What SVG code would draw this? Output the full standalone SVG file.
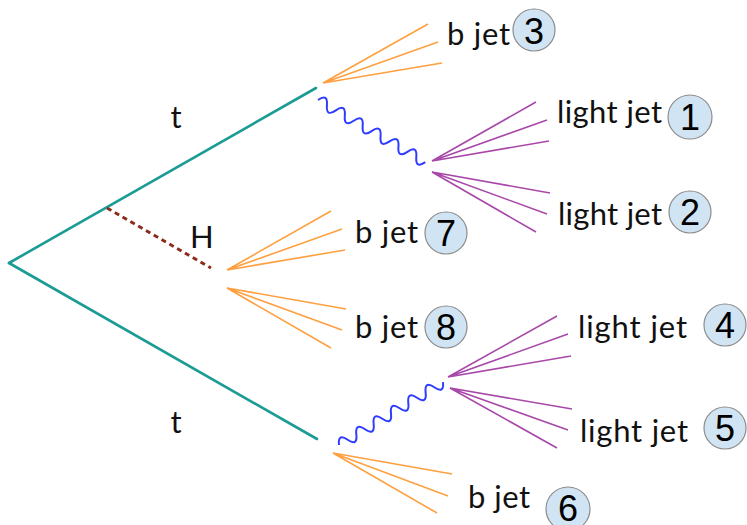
<svg xmlns="http://www.w3.org/2000/svg" width="747" height="525" viewBox="0 0 747 525">
<style>
.top{stroke:#1a9b94;stroke-width:2.6;fill:none;stroke-linecap:round}
.h{stroke:#8b2b1b;stroke-width:3;stroke-dasharray:5,4;fill:none}
.w{stroke:#2d3cff;stroke-width:2;fill:none}
.b{stroke:#ffa040;stroke-width:1.6;fill:none}
.l{stroke:#a848a8;stroke-width:1.6;fill:none}
.lab{font-family:Lato,"Open Sans","Liberation Sans",sans-serif;font-size:31px;fill:#111}
.c{fill:#d0e4f3;stroke:#8c8c8c;stroke-width:1.2}
.n{font-family:"Liberation Sans",Arial,sans-serif;font-size:36px;fill:#000;text-anchor:middle}
</style>
<g id="connectors">
<line class="top" x1="9" y1="263" x2="316" y2="88"/>
<line class="top" x1="9" y1="263" x2="317" y2="439"/>
<line class="h" x1="107" y1="208" x2="211" y2="268"/>
<path class="w" transform="translate(318,100) rotate(30.1)" d="M0,0 q5.17,-11 10.33,0 t10.33,0 t10.33,0 t10.33,0 t10.33,0 t10.33,0 t10.33,0 t10.33,0 t10.33,0 t10.33,0 t10.33,0 t10.33,0"/>
<path class="w" transform="translate(339,445) rotate(-31.2)" d="M0,0 q5.07,-11 10.13,0 t10.13,0 t10.13,0 t10.13,0 t10.13,0 t10.13,0 t10.13,0 t10.13,0 t10.13,0 t10.13,0 t10.13,0 t10.13,0"/>
</g>
<g id="t-top"><text class="lab" x="176" y="128" text-anchor="middle">t</text></g>
<g id="t-bottom"><text class="lab" x="176" y="433" text-anchor="middle">t</text></g>
<g id="H"><text class="lab" x="190" y="248" font-size="32">H</text></g>
<g id="jet3">
<path class="b" d="M323,83 L428,24 M323,83 L438,42 M323,83 L442,63"/>
<text class="lab" x="447" y="45" textLength="63">b jet</text>
<circle class="c" cx="534" cy="30" r="21"/><text class="n" x="534" y="44" font-size="40">3</text>
</g>
<g id="jet1">
<path class="l" d="M432,161 L536,102 M432,161 L547,120 M432,161 L549,141"/>
<text class="lab" x="557" y="123" textLength="105">light jet</text>
<circle class="c" cx="690" cy="117" r="22"/><text class="n" x="690" y="130">1</text>
</g>
<g id="jet2">
<path class="l" d="M432,172 L550,193 M432,172 L547,214 M432,172 L536,232"/>
<text class="lab" x="558" y="225" textLength="104">light jet</text>
<circle class="c" cx="690" cy="212" r="21"/><text class="n" x="690" y="225">2</text>
</g>
<g id="jet7">
<path class="b" d="M227,270 L331,211 M227,270 L342,229 M227,270 L345,250"/>
<text class="lab" x="355" y="243" textLength="63">b jet</text>
<circle class="c" cx="446" cy="233" r="21"/><text class="n" x="446" y="246">7</text>
</g>
<g id="jet8">
<path class="b" d="M227,288 L346,309 M227,288 L342,330 M227,288 L331,348"/>
<text class="lab" x="355" y="338" textLength="63">b jet</text>
<circle class="c" cx="446" cy="327" r="21"/><text class="n" x="446" y="340">8</text>
</g>
<g id="jet4">
<path class="l" d="M448,377 L557,316 M448,377 L568,334 M448,377 L571,356"/>
<text class="lab" x="578" y="338" textLength="109">light jet</text>
<circle class="c" cx="725" cy="325" r="21"/><text class="n" x="725" y="338">4</text>
</g>
<g id="jet5">
<path class="l" d="M450,388 L572,409 M450,388 L568,430 M450,388 L557,448"/>
<text class="lab" x="580" y="442" textLength="108">light jet</text>
<circle class="c" cx="725" cy="428" r="21"/><text class="n" x="725" y="441">5</text>
</g>
<g id="jet6">
<path class="b" d="M333,453 L452,474 M333,453 L448,496 M333,453 L437,513"/>
<text class="lab" x="468" y="508" textLength="62">b jet</text>
<circle class="c" cx="568" cy="509" r="22"/><text class="n" x="568" y="521" font-size="34">6</text>
</g>
</svg>
